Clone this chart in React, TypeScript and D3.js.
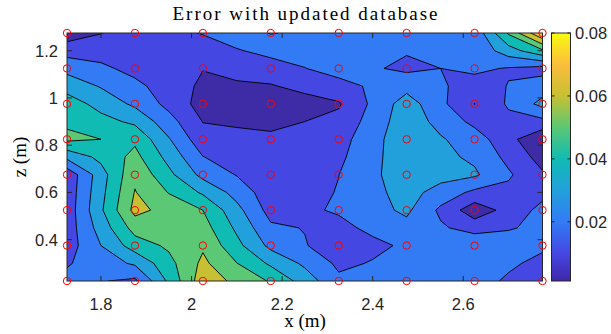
import React, { useMemo } from 'react';
import * as d3 from 'd3';

// grid coordinates
const xValues = [1.725, 1.875, 2.025, 2.175, 2.325, 2.475, 2.625, 2.775];
const zValues = [0.225, 0.375, 0.525, 0.675, 0.825, 0.975, 1.125, 1.275];

// error values, one array per z row (bottom to top), left to right in x
const errZ0225 = [0.023, 0.018, 0.066, 0.049, 0.022, 0.025, 0.024, 0.013];
const errZ0375 = [0.015, 0.045, 0.0585, 0.0273, 0.014, 0.0215, 0.028, 0.0217];
const errZ0525 = [0.014, 0.063, 0.05, 0.0162, 0.021, 0.032, 0.004, 0.023];
const errZ0675 = [0.013, 0.058, 0.027, 0.012, 0.0199, 0.036, 0.0315, 0.0112];
const errZ0825 = [0.052, 0.048, 0.0135, 0.012, 0.016, 0.037, 0.025, 0.0012];
const errZ0975 = [0.045, 0.028, 0.006, 0.003, 0.009, 0.035, 0.0098, 0.033];
const errZ1125 = [0.027, 0.017, 0.0103, 0.0155, 0.024, 0.018, 0.022, 0.0165];
const errZ1275 = [0.0044, 0.015, 0.0205, 0.0305, 0.026, 0.0235, 0.0227, 0.08];
const errRows = [errZ0225, errZ0375, errZ0525, errZ0675, errZ0825, errZ0975, errZ1125, errZ1275];

const levels = [0.01, 0.02, 0.03, 0.04, 0.05, 0.06, 0.07];
const bandColors = ['#3e2ca6', '#4547e3', '#327bf5', '#22a0db', '#10bbb4', '#5ac874', '#c8c033', '#fbbd3c'];
const xTicks = [1.8, 2, 2.2, 2.4, 2.6];
const zTicks = [0.4, 0.6, 0.8, 1, 1.2];
const cbTicks = [0.02, 0.04, 0.06, 0.08];
const cMin = 0.0012;
const cMax = 0.08;
const cbStops = [
  [0, '#3e26a8'], [0.111, '#4547e3'], [0.238, '#327bf5'], [0.365, '#22a0db'],
  [0.492, '#10bbb4'], [0.619, '#5ac874'], [0.746, '#c8c033'], [0.873, '#fbbd3c'], [1, '#f9fb0e'],
];

const W = 611, H = 334;
const PL = 67, PR = 542.5, PT = 33, PB = 281;
const CBL = 551.5, CBR = 570.5;
const axisColor = '#262626';
const tickFont = 16.5;
const serif = "'Liberation Serif', 'Times New Roman', serif";

// Marching-squares helper grid: cell edge midpoints and cell centres are added so that
// ambiguous (saddle) cells are resolved by the cell mean, as MATLAB's contourf does.
function helperGrid(rows: number[][]) {
  const ny = rows.length, nx = rows[0].length;
  const NX = 2 * nx - 1, NY = 2 * ny - 1;
  const out = new Array(NX * NY).fill(0);
  for (let J = 0; J < NY; J++) {
    for (let I = 0; I < NX; I++) {
      const i0 = Math.floor(I / 2), i1 = Math.ceil(I / 2);
      const j0 = Math.floor(J / 2), j1 = Math.ceil(J / 2);
      out[J * NX + I] = (rows[j0][i0] + rows[j0][i1] + rows[j1][i0] + rows[j1][i1]) / 4;
    }
  }
  return { NX, NY, out };
}

export default function App() {
  const xScale = d3.scaleLinear().domain([xValues[0], xValues[xValues.length - 1]]).range([PL, PR]);
  const yScale = d3.scaleLinear().domain([zValues[0], zValues[zValues.length - 1]]).range([PB, PT]);
  const cbScale = d3.scaleLinear().domain([cMin, cMax]).range([PB, PT]);

  const fills = useMemo(() => {
    const { NX, NY, out } = helperGrid(errRows);
    const gx = d3.scaleLinear().domain([0.5, NX - 0.5]).range([xScale(xValues[0]), xScale(xValues[xValues.length - 1])]);
    const gy = d3.scaleLinear().domain([0.5, NY - 0.5]).range([yScale(zValues[0]), yScale(zValues[zValues.length - 1])]);
    const proj = d3.geoTransform({
      point(x: number, y: number) {
        (this as any).stream.point(gx(x), gy(y));
      },
    });
    const path = d3.geoPath(proj);
    const contours = d3.contours().size([NX, NY]).thresholds(levels)(out);
    return contours.map((c, k) => ({ d: path(c as any) || '', color: bandColors[k + 1] }));
  }, []);

  return (
    <svg width={W} height={H} style={{ position: 'absolute', left: 0, top: 0, background: '#fff' }}
      fontFamily="'Liberation Sans', Arial, sans-serif">
      <defs>
        <clipPath id="plotClip">
          <rect x={PL} y={PT} width={PR - PL} height={PB - PT} />
        </clipPath>
        <linearGradient id="cbGrad" x1="0" y1="1" x2="0" y2="0">
          {cbStops.map(([o, c]) => (
            <stop key={String(o)} offset={String(o)} stopColor={c as string} />
          ))}
        </linearGradient>
      </defs>
      <g clipPath="url(#plotClip)">
        <rect x={PL} y={PT} width={PR - PL} height={PB - PT} fill={bandColors[0]} />
        {fills.map((f, k) => (
          <path key={'f' + k} d={f.d} fill={f.color} stroke="none" />
        ))}
        {fills.map((f, k) => (
          <path key={'l' + k} d={f.d} fill="none" stroke="#000" strokeWidth={0.9} strokeLinejoin="round" />
        ))}
      </g>
      {/* axes box */}
      <rect x={PL} y={PT} width={PR - PL} height={PB - PT} fill="none" stroke={axisColor} strokeWidth={1} />
      {xTicks.map((t) => (
        <g key={'xt' + t}>
          <line x1={xScale(t)} x2={xScale(t)} y1={PB} y2={PB - 5} stroke={axisColor} />
          <line x1={xScale(t)} x2={xScale(t)} y1={PT} y2={PT + 5} stroke={axisColor} />
          <text x={xScale(t)} y={310} textAnchor="middle" fontSize={tickFont} fill={axisColor}>{String(t)}</text>
        </g>
      ))}
      {zTicks.map((t) => (
        <g key={'zt' + t}>
          <line x1={PL} x2={PL + 5} y1={yScale(t)} y2={yScale(t)} stroke={axisColor} />
          <line x1={PR} x2={PR - 5} y1={yScale(t)} y2={yScale(t)} stroke={axisColor} />
          <text x={58} y={yScale(t) + 6} textAnchor="end" fontSize={tickFont} fill={axisColor}>{String(t)}</text>
        </g>
      ))}
      {/* data points */}
      {zValues.map((z) =>
        xValues.map((x) => (
          <circle key={'p' + x + '_' + z} cx={xScale(x)} cy={yScale(z)} r={3.7} fill="none" stroke="#ff0000" strokeWidth={1} />
        ))
      )}
      {/* colorbar */}
      <rect x={CBL} y={PT} width={CBR - CBL} height={PB - PT} fill="url(#cbGrad)" stroke={axisColor} strokeWidth={1} />
      {cbTicks.map((t) => (
        <g key={'cb' + t}>
          <line x1={CBR} x2={CBR - 3} y1={cbScale(t)} y2={cbScale(t)} stroke={axisColor} />
          <line x1={CBL} x2={CBL + 3} y1={cbScale(t)} y2={cbScale(t)} stroke={axisColor} />
          <text x={575} y={cbScale(t) + 6} textAnchor="start" fontSize={tickFont} fill={axisColor}>{t.toFixed(2)}</text>
        </g>
      ))}
      {/* titles */}
      <text x={305} y={20} textAnchor="middle" fontSize={19} fontFamily={serif}
        textLength={265} lengthAdjust="spacing" fill="#000">Error with updated database</text>
      <text x={305} y={327} textAnchor="middle" fontSize={19} fontFamily={serif} fill="#000">x (m)</text>
      <text transform={`translate(26,${(PT + PB) / 2}) rotate(-90)`} textAnchor="middle" fontSize={19}
        fontFamily={serif} fill="#000">z (m)</text>
    </svg>
  );
}
